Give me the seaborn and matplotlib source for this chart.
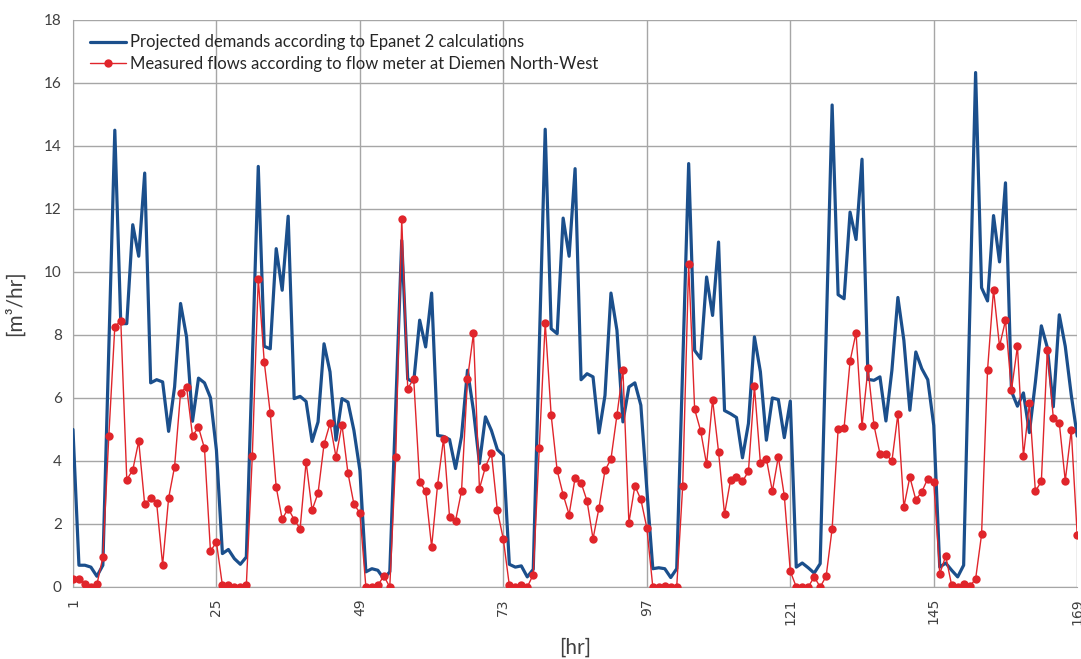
import pandas as pd
import numpy as np
import matplotlib
matplotlib.use("Agg")
import matplotlib.pyplot as plt
import seaborn as sns

# Hourly values (hours 1..169)
hours = list(range(1, 170))

projected = [
    5.0, 0.69, 0.69, 0.63, 0.34, 0.69, 7.6, 14.5, 8.36, 8.36, 11.5, 10.5,
    13.14, 6.48, 6.58, 6.51, 4.94, 6.35, 9.0, 7.94, 5.26, 6.63, 6.48, 6.01,
    4.34, 1.06, 1.19, 0.9, 0.72, 0.95, 7.1, 13.35, 7.64, 7.56, 10.74, 9.42,
    11.77, 5.98, 6.05, 5.89, 4.62, 5.24, 7.72, 6.83, 4.66, 5.98, 5.87, 4.97,
    3.7, 0.48, 0.58, 0.53, 0.26, 0.48, 5.7, 11.0, 6.6, 6.5, 8.47, 7.62,
    9.33, 4.81, 4.78, 4.68, 3.76, 4.78, 6.88, 5.6, 3.92, 5.4, 4.97, 4.36,
    4.18, 0.72, 0.63, 0.67, 0.32, 0.56, 7.5, 14.53, 8.2, 8.04, 11.71, 10.5,
    13.28, 6.58, 6.77, 6.67, 4.89, 6.08, 9.33, 8.15, 5.24, 6.35, 6.48, 5.77,
    3.1, 0.58, 0.61, 0.58, 0.3, 0.58, 7.0, 13.44, 7.51, 7.25, 9.84, 8.62,
    10.95, 5.6, 5.5, 5.38, 4.1, 5.19, 7.94, 6.83, 4.66, 6.0, 5.95, 4.74,
    5.9, 0.63, 0.76, 0.61, 0.44, 0.74, 8.0, 15.3, 9.28, 9.15, 11.9, 11.03,
    13.58, 6.59, 6.56, 6.67, 5.27, 6.88, 9.19, 7.83, 5.61, 7.46, 6.93, 6.58,
    5.13, 0.63, 0.76, 0.53, 0.32, 0.69, 8.5, 16.33, 9.5, 9.08, 11.79, 10.32,
    12.83, 6.21, 5.74, 6.16, 4.9, 6.5, 8.29, 7.6, 5.72, 8.64, 7.64, 6.1,
    4.79,
]

measured = [
    0.25, 0.25, 0.1, 0.0, 0.08, 0.94, 4.8, 8.26, 8.45, 3.41, 3.71, 4.63,
    2.62, 2.82, 2.66, 0.70, 2.82, 3.82, 6.17, 6.36, 4.8, 5.07, 4.4, 1.14,
    1.42, 0.05, 0.05, 0.0, 0.0, 0.05, 4.15, 9.79, 7.14, 5.52, 3.17, 2.15,
    2.49, 2.14, 1.85, 3.97, 2.44, 2.98, 4.53, 5.19, 4.13, 5.15, 3.62, 2.63,
    2.35, 0.0, 0.0, 0.05, 0.35, 0.0, 4.13, 11.69, 6.3, 6.61, 3.33, 3.04,
    1.27, 3.25, 4.71, 2.22, 2.1, 3.04, 6.6, 8.05, 3.12, 3.81, 4.25, 2.43,
    1.51, 0.05, 0.0, 0.07, 0.0, 0.39, 4.42, 8.39, 5.45, 3.7, 2.93, 2.3,
    3.46, 3.31, 2.73, 1.53, 2.51, 3.7, 4.06, 5.45, 6.9, 2.04, 3.21, 2.78,
    1.88, 0.0, 0.0, 0.03, 0.0, 0.0, 3.2, 10.25, 5.64, 4.96, 3.89, 5.95,
    4.29, 2.31, 3.39, 3.49, 3.35, 3.67, 6.37, 3.94, 4.07, 3.04, 4.13, 2.89,
    0.5, 0.0, 0.0, 0.0, 0.32, 0.0, 0.34, 1.85, 5.0, 5.05, 7.17, 8.07,
    5.11, 6.95, 5.13, 4.23, 4.23, 3.99, 5.49, 2.54, 3.49, 2.77, 3.02, 3.44,
    3.33, 0.42, 0.98, 0.05, 0.0, 0.08, 0.02, 0.25, 1.67, 6.89, 9.44, 7.64,
    8.46, 6.24, 7.64, 4.16, 5.83, 3.04, 3.35, 7.51, 5.37, 5.21, 3.37, 4.98,
    1.65,
]

label_proj = "Projected demands according to Epanet 2 calculations"
label_meas = "Measured flows according to flow meter at Diemen North-West"

xticks = [1, 25, 49, 73, 97, 121, 145, 169]
yticks = list(range(0, 19, 2))

df = pd.DataFrame({"hour": hours, "projected": projected, "measured": measured})

sns.set_style("white")
plt.rcParams["font.family"] = ["Lato", "DejaVu Sans"]

fig = plt.figure(figsize=(10.81, 6.59), dpi=100)
ax = fig.add_axes([0.0675, 0.1093, 0.929, 0.8604])

sns.lineplot(data=df, x="hour", y="projected", ax=ax, color="#1b4f8c",
             linewidth=2.3, label=label_proj, zorder=3)
sns.lineplot(data=df, x="hour", y="measured", ax=ax, color="#e0252b",
             linewidth=1.0, marker="o", markersize=6, markeredgewidth=0,
             label=label_meas, zorder=4)

ax.set_xlim(1, 169)
ax.set_ylim(0, 18)
ax.set_xticks(xticks)
ax.set_xticklabels([str(t) for t in xticks], rotation=90, fontsize=10,
                   color="#404040", family="DejaVu Sans")
ax.set_yticks(yticks)
ax.set_yticklabels([str(t) for t in yticks], fontsize=11, color="#404040")
ax.tick_params(axis="both", length=0, pad=8)

ax.grid(True, color="#a6a6a6", linewidth=1.0)
ax.set_axisbelow(True)
for side in ["top", "right"]:
    ax.spines[side].set_visible(False)
ax.spines["left"].set_color("#a6a6a6")
ax.spines["bottom"].set_color("#a6a6a6")

ax.set_xlabel("[hr]", fontsize=15, color="#404040", labelpad=9)
ax.set_ylabel("[m³/hr]", fontsize=15, color="#404040", labelpad=14)

leg = ax.legend(loc="upper left", bbox_to_anchor=(0.005, 0.995), frameon=False,
                fontsize=12, handlelength=2.2, handletextpad=0.2,
                labelspacing=0.35, borderaxespad=0.3)
for t in leg.get_texts():
    t.set_color("#262626")

fig.savefig("out.png", dpi=100)
